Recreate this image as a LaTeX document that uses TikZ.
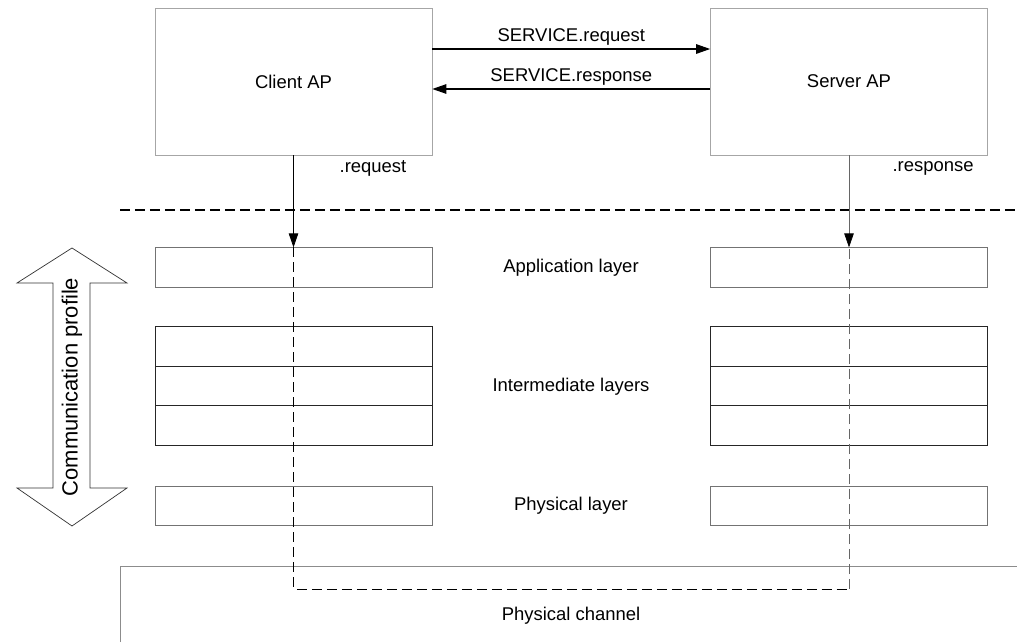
\documentclass[tikz,border=0pt]{standalone}
\usepackage{fontspec}
\setmainfont{Liberation Sans}
\usetikzlibrary{arrows.meta}

\tikzset{
  apbox/.style={draw=black!35, minimum width=5.54cm, minimum height=2.94cm, inner sep=0pt},
  layerbox/.style={draw=black!55, minimum width=5.54cm, minimum height=0.79cm, inner sep=0pt},
  midbox/.style={draw=black!85, minimum width=5.54cm, minimum height=0.79cm, inner sep=0pt},
  tri/.style={-{Triangle[length=0.28cm,width=0.19cm,color=black]}},
  dashline/.style={dash pattern=on 0.2cm off 0.1cm},
  lbl/.style={font=\fontsize{10.5}{12}\selectfont, inner sep=1pt}
}

\begin{document}
\begin{tikzpicture}[x=0.02cm,y=-0.02cm]
      \useasboundingbox (0,0) rectangle (1017,642);
      % application processes
      \node[apbox] (client) at (293.5,81.5) {};
      \node[apbox] (server) at (849,81.5) {};
      \node[lbl] at (client.center) {Client AP};
      \node[lbl] at (server.center) {Server AP};
      \draw[tri, semithick] ([yshift=0.65cm]client.east) -- ([yshift=0.65cm]server.west)
        node[lbl, midway, above=1pt] {SERVICE.request};
      \draw[tri, semithick] ([yshift=-0.15cm]server.west) -- ([yshift=-0.15cm]client.east)
        node[lbl, midway, above=1pt] {SERVICE.response};
      % layer stacks
      \node[layerbox] (capp) at (293.5,267.5) {};
      \node[midbox] (cint1) at (293.5,346.5) {};
      \node[midbox] (cint2) at (293.5,386) {};
      \node[midbox] (cint3) at (293.5,425.5) {};
      \node[layerbox] (cphy) at (293.5,506) {};
      \node[layerbox] (sapp) at (849,267.5) {};
      \node[midbox] (sint1) at (849,346.5) {};
      \node[midbox] (sint2) at (849,386) {};
      \node[midbox] (sint3) at (849,425.5) {};
      \node[layerbox] (sphy) at (849,506) {};
      \node[lbl] at (571,268) {Application layer};
      \node[lbl] at (571,387) {Intermediate layers};
      \node[lbl] at (571,506) {Physical layer};
      % boundary of the communication profile
      \draw[dashline, thick] (120,210) -- (1017,210);
      \draw[black!45] (120,642) -- (120,566) -- (1017,566);
      \node[lbl] at (571,616) {Physical channel};
      % primitives
      \draw[tri] (client.south) -- (capp.north);
      \node[lbl] at (373,168) {.request};
      \draw[tri, black!60] (server.south) -- (sapp.north);
      \node[lbl] at (933,168) {.response};
      \coordinate (cbot) at (293.5,589);
      \coordinate (sbot) at (849,589);
      \draw[dashline] (capp.north) -- (cbot) -- (sbot);
      \draw[dashline, black!60] (sbot) -- (sapp.north);
      % communication profile arrow
      \draw[black!80, fill=white] (72,248) -- (127,283) -- (90,283) -- (90,488) -- (127,488)
        -- (72,526) -- (17,488) -- (53,488) -- (53,283) -- (17,283) -- cycle;
      \node[rotate=90, font=\fontsize{12.5}{14}\selectfont] (profile) at (72,387) {Communication profile};
\end{tikzpicture}
\end{document}
